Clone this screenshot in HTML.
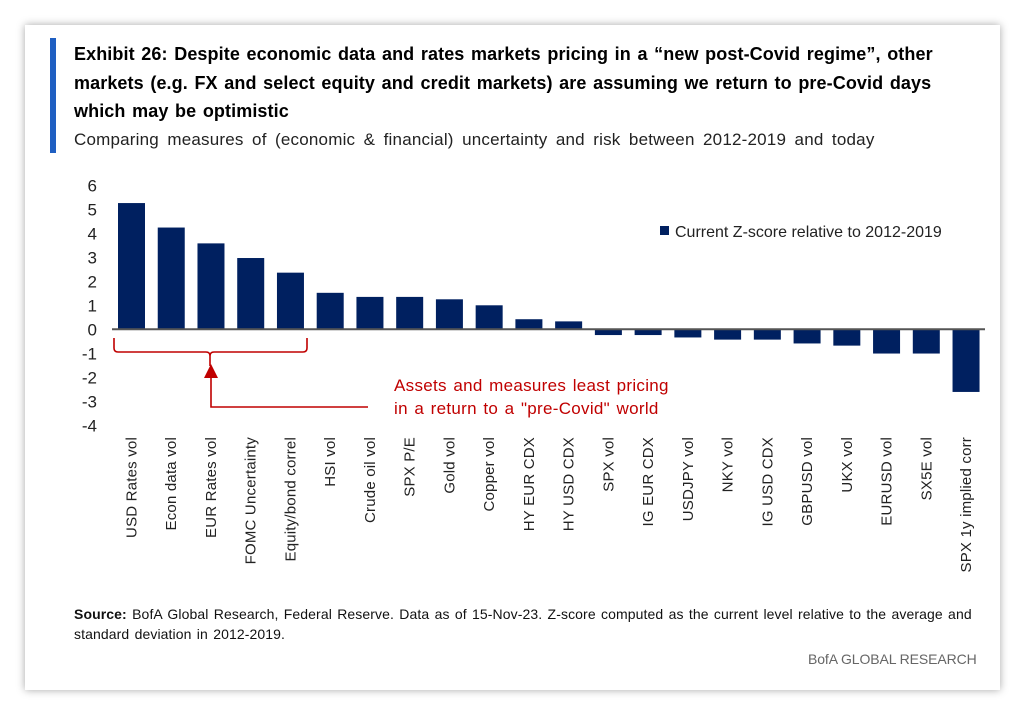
<!DOCTYPE html>
<html><head><meta charset="utf-8"><style>
body{margin:0;width:1024px;height:712px;background:#fff;font-family:"Liberation Sans",sans-serif;overflow:hidden}
#card{position:absolute;left:25px;top:25px;width:975px;height:665px;background:#fff;box-shadow:0 0 8px rgba(0,0,0,.35)}
#bar{position:absolute;left:50px;top:38px;width:6px;height:115px;background:#1f5fc2}
.t{position:absolute;left:74px;font-weight:bold;font-size:18px;color:#000;letter-spacing:0.1px;word-spacing:1.5px;white-space:nowrap}
#sub{position:absolute;left:74px;top:130px;font-size:17px;color:#222;word-spacing:3.5px;letter-spacing:0.2px;white-space:nowrap}
#src{position:absolute;left:74px;top:604px;font-size:14px;color:#111;line-height:20px;letter-spacing:0.1px;word-spacing:1.3px;white-space:nowrap}
#brand{position:absolute;left:808px;top:651px;font-size:14px;color:#666;letter-spacing:-0.1px}
svg{position:absolute;left:0;top:0}
</style></head><body>
<div id="card"></div>
<div id="bar"></div>
<div class="t" style="top:44px">Exhibit 26: Despite economic data and rates markets pricing in a “new post-Covid regime”, other</div>
<div class="t" style="top:73px">markets (e.g. FX and select equity and credit markets) are assuming we return to pre-Covid days</div>
<div class="t" style="top:101px">which may be optimistic</div>
<div id="sub">Comparing measures of (economic &amp; financial) uncertainty and risk between 2012-2019 and today</div>
<div id="src"><b>Source:</b> BofA Global Research, Federal Reserve. Data as of 15-Nov-23. Z-score computed as the current level relative to the average and<br>standard deviation in 2012-2019.</div>
<div id="brand">BofA GLOBAL RESEARCH</div>
<svg id="chart" width="1024" height="712"></svg>
<script>
const categories=["USD Rates vol","Econ data vol","EUR Rates vol","FOMC Uncertainty","Equity/bond correl","HSI vol","Crude oil vol","SPX P/E","Gold vol","Copper vol","HY EUR CDX","HY USD CDX","SPX vol","IG EUR CDX","USDJPY vol","NKY vol","IG USD CDX","GBPUSD vol","UKX vol","EURUSD vol","SX5E vol","SPX 1y implied corr"];
const values=[5.26,4.24,3.58,2.97,2.36,1.52,1.35,1.35,1.25,1.0,0.42,0.33,-0.24,-0.24,-0.34,-0.43,-0.43,-0.59,-0.68,-1.01,-1.01,-2.61];
const yTicks=[6,5,4,3,2,1,0,-1,-2,-3,-4];
const NS="http://www.w3.org/2000/svg";
const svg=document.getElementById('chart');
const y0=329.3,unit=24;
function y(v){return y0-v*unit;}
function x(i){return 131.5+i*39.74;}
function mk(t,a){const e=document.createElementNS(NS,t);for(const k in a)e.setAttribute(k,a[k]);svg.appendChild(e);return e;}
yTicks.forEach(v=>{const e=mk('text',{x:97,y:y(v)+6,'text-anchor':'end','font-size':17,fill:'#222','font-family':'Liberation Sans'});e.textContent=v;

});
values.forEach((v,i)=>{const top=Math.min(y(v),y0),h=Math.abs(y(v)-y0);
const r=mk('rect',{x:x(i)-13.5,y:top,width:27,height:h,fill:'#002060'});


const t=mk('text',{transform:`translate(${x(i)+5},437) rotate(-90)`,'text-anchor':'end','font-size':15,fill:'#222','font-family':'Liberation Sans','letter-spacing':'0.2'});
t.textContent=categories[i];

});
const ax=mk('line',{x1:112,x2:985,y1:y0,y2:y0,stroke:'#555','stroke-width':2});


const lg=mk('rect',{x:660,y:226,width:9,height:9,fill:'#002060'});


const lt=mk('text',{x:675,y:237,'font-size':16,fill:'#222','font-family':'Liberation Sans','letter-spacing':'0'});
lt.textContent='Current Z-score relative to 2012-2019';


const br=mk('path',{d:'M114,338 v10 q0,4 4,4 H206 q4,0 4,4 v10 M210,356 q0,-4 4,-4 H303 q4,0 4,-4 v-10',fill:'none',stroke:'#c00000','stroke-width':1.6});


const ar=mk('path',{d:'M211,376 V407 H368',fill:'none',stroke:'#c00000','stroke-width':1.6});


const ah=mk('path',{d:'M204,378 L211,364 L218,378 Z',fill:'#c00000'});


[['Assets and measures least pricing',391],['in a return to a "pre-Covid"  world',414]].forEach(a=>{const t=mk('text',{x:394,y:a[1],'font-size':17,fill:'#c00000','font-family':'Liberation Sans','letter-spacing':'0.3','word-spacing':'1.5'});t.textContent=a[0];

});
</script>
</body></html>
